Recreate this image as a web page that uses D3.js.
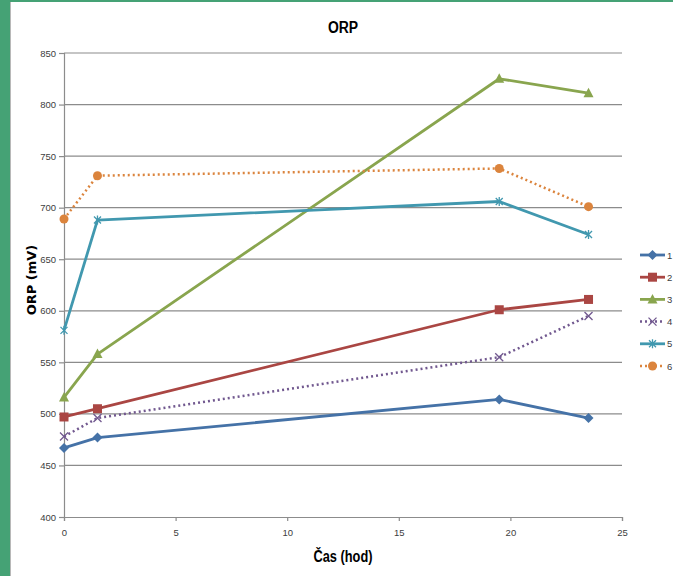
<!DOCTYPE html>
<html>
<head>
<meta charset="utf-8">
<script src="https://cdn.jsdelivr.net/npm/d3@7"></script>
<style>
  html, body { margin: 0; padding: 0; background: #fff; }
  svg { display: block; }
  .tick text { font-family: "Liberation Sans", sans-serif; font-size: 9.5px; fill: #404040; }
</style>
</head>
<body>
<script>
// ORP measurements over time for six samples
const times = [0, 1.5, 19.5, 23.5];
const seriesNames = ["1", "2", "3", "4", "5", "6"];
const s1 = [467, 477, 514, 496];
const s2 = [497, 505, 601, 611];
const s3 = [516, 558, 825, 811];
const s4 = [478, 496, 555, 595];
const s5 = [581, 688, 706, 674];
const s6 = [689, 731, 738, 701];
const yTicks = [400, 450, 500, 550, 600, 650, 700, 750, 800, 850];
const xTicks = [0, 5, 10, 15, 20, 25];

const seriesValues = [s1, s2, s3, s4, s5, s6];
const colors = ["#4572A7", "#AA4643", "#89A54E", "#71588F", "#4198AF", "#DB843D"];
const symbols = ["diamond", "square", "triangle", "x", "asterisk", "circle"];
const dashed = [false, false, false, true, false, true];

const W = 673, H = 576;
const svg = d3.select("body").append("svg").attr("width", W).attr("height", H);

// frame decoration
svg.append("rect").attr("x", 0).attr("y", 0).attr("width", W).attr("height", 2).attr("fill", "#45A275");
svg.append("rect").attr("x", 0).attr("y", 0).attr("width", 10).attr("height", H).attr("fill", "#45A275");
svg.append("rect").attr("x", 10).attr("y", 2).attr("width", 1).attr("height", H).attr("fill", "#b8b8b8");

const x = d3.scaleLinear().domain([0, 25]).range([64, 622]);
const y = d3.scaleLinear().domain([400, 850]).range([517, 53]);

// gridlines
svg.append("g").selectAll("line").data(yTicks.slice(1)).join("line")
  .attr("x1", x(0)).attr("x2", x(25))
  .attr("y1", d => y(d)).attr("y2", d => y(d))
  .attr("stroke", "#8c8c8c").attr("stroke-width", 1.2);

// axes
const yAxis = svg.append("g").attr("transform", `translate(${x(0)},0)`)
  .call(d3.axisLeft(y).tickValues(yTicks).tickSize(5).tickPadding(3));
const xAxis = svg.append("g").attr("transform", `translate(0,${y(400)})`)
  .call(d3.axisBottom(x).tickValues(xTicks).tickSize(4).tickPadding(8));
[yAxis, xAxis].forEach(g => {
  g.select(".domain").attr("stroke", "#8c8c8c").attr("stroke-width", 1.2);
  g.selectAll(".tick line").attr("stroke", "#8c8c8c").attr("stroke-width", 1.2);
});
xAxis.selectAll(".tick text").attr("dy", "0.71em");

// titles (condensed horizontally)
function title(tx, ty, rot, sx, size, family, str) {
  svg.append("g").attr("transform", `translate(${tx},${ty}) rotate(${rot}) scale(${sx},1)`)
    .append("text").attr("text-anchor", "middle")
    .attr("font-family", family).attr("font-weight", "bold")
    .attr("font-size", size).attr("fill", "#000").text(str);
}
title(x(12.5), 33, 0, 0.82, 17, "'Liberation Sans', sans-serif", "ORP");
title(x(12.5), 562, 0, 0.8, 16, "'Liberation Sans', sans-serif", "Čas (hod)");
title(36, 280, -90, 1, 13, "'DejaVu Sans', sans-serif", "ORP (mV)");

// marker drawing
function drawMarker(g, type, color) {
  if (type === "diamond") {
    g.append("path").attr("d", "M0,-5L5,0L0,5L-5,0Z").attr("fill", color);
  } else if (type === "square") {
    g.append("rect").attr("x", -4.5).attr("y", -4.5).attr("width", 9).attr("height", 9).attr("fill", color);
  } else if (type === "triangle") {
    g.append("path").attr("d", "M0,-5.5L5,4L-5,4Z").attr("fill", color);
  } else if (type === "circle") {
    g.append("circle").attr("r", 4.5).attr("fill", color);
  } else if (type === "x") {
    g.append("path").attr("d", "M-4,-4L4,4M-4,4L4,-4").attr("stroke", color).attr("stroke-width", 1.3).attr("fill", "none");
  } else if (type === "asterisk") {
    g.append("path").attr("d", "M-3.5,-3.5L3.5,3.5M-3.5,3.5L3.5,-3.5M0,-4.5L0,4.5")
      .attr("stroke", color).attr("stroke-width", 1.3).attr("fill", "none");
  }
}

const line = d3.line().x(d => x(d[0])).y(d => y(d[1]));

seriesValues.forEach((vals, i) => {
  const pts = times.map((t, j) => [t, vals[j]]);
  const g = svg.append("g");
  g.append("path").datum(pts).attr("d", line)
    .attr("fill", "none").attr("stroke", colors[i])
    .attr("stroke-width", dashed[i] ? 2.5 : 2.8)
    .attr("stroke-dasharray", dashed[i] ? "2,3" : null)
    .attr("stroke-linejoin", "round");
  pts.forEach(p => {
    const m = g.append("g").attr("transform", `translate(${x(p[0])},${y(p[1])})`);
    drawMarker(m, symbols[i], colors[i]);
  });
});

// legend
const legend = svg.append("g");
seriesNames.forEach((name, i) => {
  const ly = 255 + i * 22.2;
  const g = legend.append("g").attr("transform", `translate(0,${ly})`);
  g.append("line").attr("x1", 640).attr("x2", 665).attr("y1", 0).attr("y2", 0)
    .attr("stroke", colors[i]).attr("stroke-width", dashed[i] ? 2.5 : 2.8)
    .attr("stroke-dasharray", dashed[i] ? "2,3" : null);
  const m = g.append("g").attr("transform", "translate(652.5,0)");
  drawMarker(m, symbols[i], colors[i]);
  g.append("text").attr("x", 667).attr("y", 3.5)
    .attr("font-family", "'Liberation Sans', sans-serif")
    .attr("font-size", 9.5).attr("fill", "#404040").text(name);
});
</script>
</body>
</html>
